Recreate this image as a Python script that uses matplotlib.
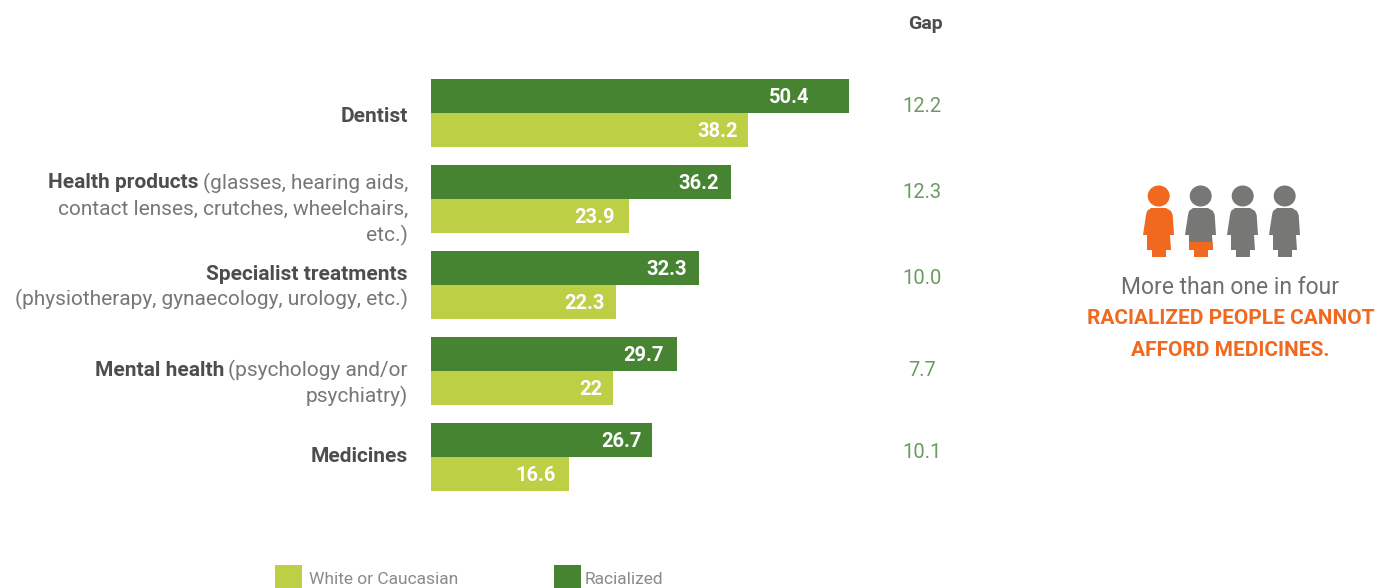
import matplotlib
matplotlib.use('Agg')
import matplotlib.pyplot as plt
from matplotlib.patches import Ellipse, Polygon, Rectangle
import numpy as np

# health care people went without, percent
racialized = [50.4, 36.2, 32.3, 29.7, 26.7]
white = [38.2, 23.9, 22.3, 22, 16.6]
gap = ['12.2', '12.3', '10.0', '7.7', '10.1']
white_text = ['38.2', '23.9', '22.3', '22', '16.6']
racialized_text = ['50.4', '36.2', '32.3', '29.7', '26.7']

# each line is (bold part, regular part)
label_lines = [
    [('Dentist', '')],
    [('Health products', '(glasses, hearing aids,'),
     ('', 'contact lenses, crutches, wheelchairs,'),
     ('', 'etc.)')],
    [('Specialist treatments', ''),
     ('', '(physiotherapy, gynaecology, urology, etc.)')],
    [('Mental health', '(psychology and/or'),
     ('', 'psychiatry)')],
    [('Medicines', '')],
]

DARK = '#468431'
LIGHT = '#bdcf45'
ORANGE = '#f1691e'
GREY = '#777775'
W, H = 1386, 588

plt.rcParams['font.family'] = ['Roboto', 'DejaVu Sans']

fig = plt.figure(figsize=(W / 100, H / 100), dpi=100, facecolor='white')

# overlay in pixel coordinates for labels and the pictogram
over = fig.add_axes([0, 0, 1, 1])
over.set_xlim(0, W)
over.set_ylim(H, 0)
over.axis('off')

# bars
ax = fig.add_axes([431 / W, 1 - 491 / H, 418 / W, 412 / H])
y = np.arange(5)
h = 34 / 86
ax.barh(y - h / 2, racialized, height=h, color=DARK)
ax.barh(y + h / 2, white, height=h, color=LIGHT)
ax.set_xlim(0, 50.4)
ax.set_ylim(4 + h, -h)
ax.axis('off')

# value labels sit inside the bar ends, insets in pixels
dark_pad = [40, 12, 12, 14, 11]
light_pad = [10, 14, 11, 11, 13]
for i in range(5):
    ax.annotate(racialized_text[i], (racialized[i], y[i] - h / 2), xytext=(-dark_pad[i] * 0.72, -1),
                textcoords='offset points', ha='right', va='center',
                color='white', fontsize=14.5, fontweight='bold')
    ax.annotate(white_text[i], (white[i], y[i] + h / 2), xytext=(-light_pad[i] * 0.72, -1),
                textcoords='offset points', ha='right', va='center',
                color='white', fontsize=14.5, fontweight='bold')

# category labels, bold and regular runs share a right edge
renderer = fig.canvas.get_renderer()
label_y = [[116], [183, 209, 235], [274, 299], [370, 396], [456]]
for lines, ys in zip(label_lines, label_y):
    for (bold, regular), yy in zip(lines, ys):
        right = 408
        if regular:
            t = over.text(right, yy, regular, ha='right', va='center',
                          fontsize=15, color='#777775')
            right -= t.get_window_extent(renderer).width + 4
        if bold:
            over.text(right, yy, bold, ha='right', va='center',
                      fontsize=15, color='#4d4d4d', fontweight='bold')

# gap column
over.text(925, 24, 'Gap', ha='center', va='center', fontsize=14, color='#4d4d4d', fontweight='bold')
gap_y = [107, 193, 279, 370, 452]
for g, yy in zip(gap, gap_y):
    over.text(922, yy, g, ha='center', va='center', fontsize=14.5, color='#6b9a63')

# legend
over.add_patch(Rectangle((275, 565), 27, 23, color=LIGHT, lw=0))
over.text(309, 579, 'White or Caucasian', va='center', fontsize=12.5, color='#8a8a8a')
over.add_patch(Rectangle((554, 565), 27, 23, color=DARK, lw=0))
over.text(585, 579, 'Racialized', va='center', fontsize=12.5, color='#8a8a8a')


def person_body(x0, color):
    body = [(3, 215), (4, 211), (8, 208), (23, 208), (28, 211), (29.7, 215), (31, 235), (27, 235),
            (28, 250), (23, 250), (23, 257), (9, 257), (9, 250), (4, 250), (4, 235), (0, 235)]
    return over.add_patch(Polygon([(x0 + a, b) for a, b in body], closed=True, color=color, lw=0))


def person_head(x0, color):
    over.add_patch(Ellipse((x0 + 15.7, 196), 22, 21, color=color, lw=0))


# one orange figure, then three grey ones, the second with a quarter filled
person_head(1143, ORANGE)
person_body(1143, ORANGE)
for x0 in [1185, 1227, 1269]:
    person_head(x0, GREY)
    person_body(x0, GREY)
skirt = person_body(1185, ORANGE)
skirt.set_clip_path(Rectangle((1180, 242), 40, 20, transform=over.transData))

over.text(1230, 287, 'More than one in four', ha='center', va='center', fontsize=16.5,
          color='#6f6f6f')
over.text(1231, 318, 'RACIALIZED PEOPLE CANNOT', ha='center', va='center', fontsize=15,
          color=ORANGE, fontweight='bold')
over.text(1230, 350, 'AFFORD MEDICINES.', ha='center', va='center', fontsize=15,
          color=ORANGE, fontweight='bold')

fig.savefig('out.png', dpi=100)
